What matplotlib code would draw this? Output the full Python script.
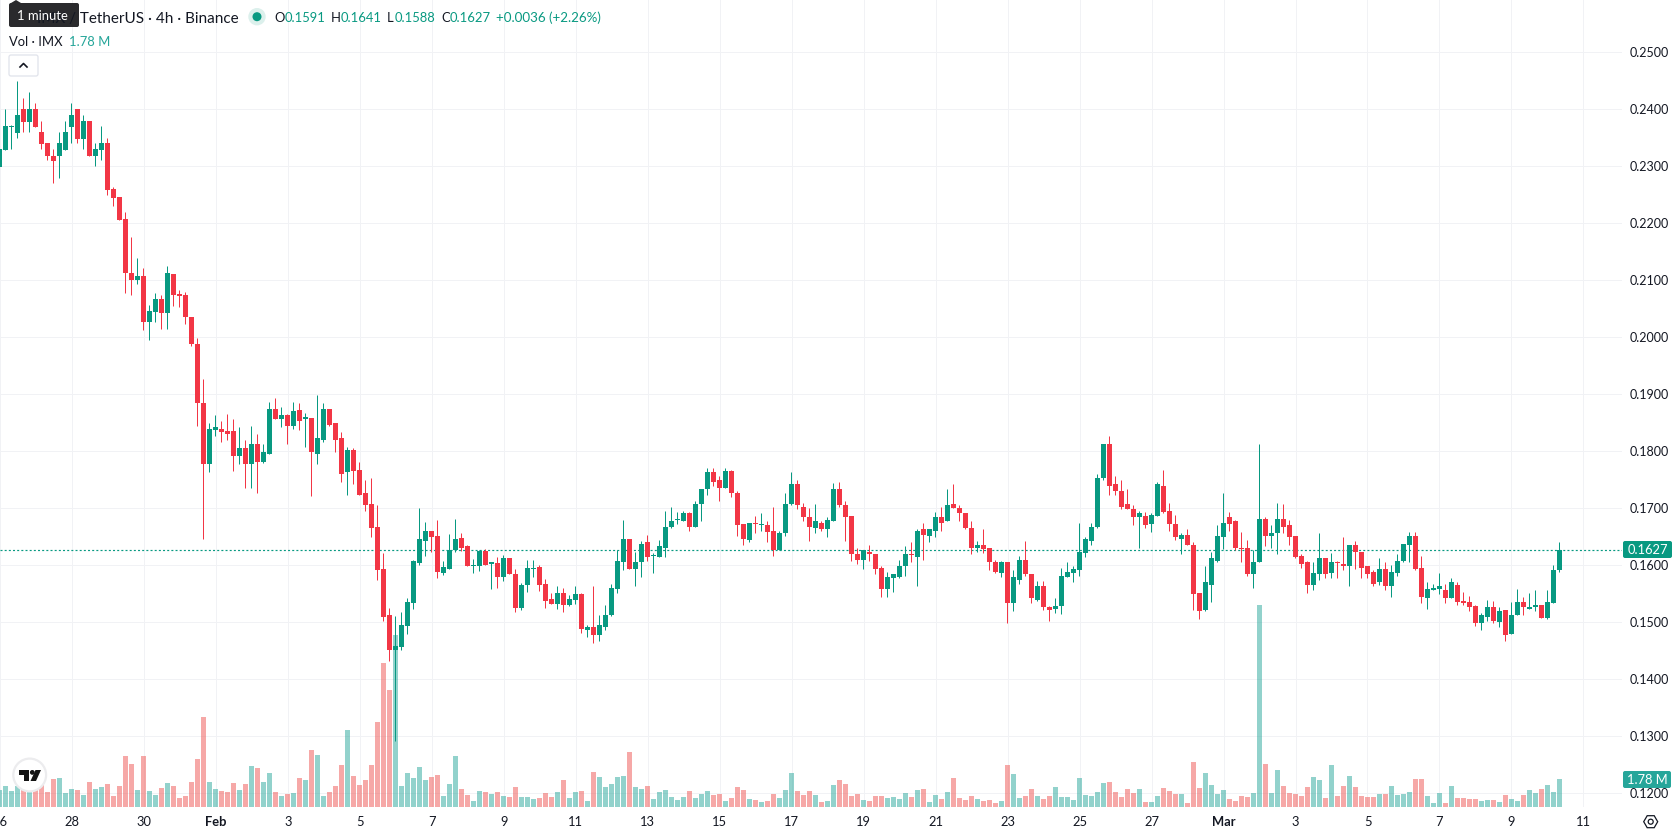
"""IMX / USDT 4h candles with volume, drawn in a trading terminal layout."""

import matplotlib

matplotlib.use("Agg")
import matplotlib.pyplot as plt
import numpy as np
from matplotlib.patches import Circle, FancyBboxPatch, Polygon

FIG_W, FIG_H = 1678, 835
PANE_RIGHT, PANE_BOTTOM = 1622, 806.7
GREEN = "#089981"
RED = "#f23645"
VOL_GREEN = "#26a69a"
VOL_RED = "#ef5350"
GRID = "#f1f2f5"
INK = "#131722"

plt.rcParams["font.family"] = ["Lato", "DejaVu Sans"]

# one entry per 4h bar, first bar sits 36 bars before 1 Feb
opens = [
    0.2299, 0.2329, 0.2369, 0.2358, 0.2401, 0.2378, 0.2401, 0.2360, 0.2341, 0.2318,
    0.2318, 0.2329, 0.2369, 0.2401, 0.2348, 0.2380, 0.2318, 0.2329, 0.2341, 0.2260,
    0.2246, 0.2208, 0.2113, 0.2101, 0.2108, 0.2027, 0.2045, 0.2068, 0.2042, 0.2111,
    0.2076, 0.2074, 0.2036, 0.1989, 0.1885, 0.1778, 0.1838, 0.1840, 0.1836, 0.1835,
    0.1792, 0.1805, 0.1778, 0.1813, 0.1782, 0.1796, 0.1875, 0.1856, 0.1863, 0.1845,
    0.1873, 0.1856, 0.1859, 0.1796, 0.1820, 0.1875, 0.1849, 0.1824, 0.1763, 0.1803,
    0.1768, 0.1726, 0.1708, 0.1668, 0.1594, 0.1513, 0.1451, 0.1457, 0.1494, 0.1534,
    0.1604, 0.1643, 0.1660, 0.1651, 0.1587, 0.1594, 0.1627, 0.1648, 0.1634, 0.1599,
    0.1599, 0.1625, 0.1603, 0.1604, 0.1580, 0.1613, 0.1585, 0.1525, 0.1565, 0.1594,
    0.1597, 0.1567, 0.1541, 0.1532, 0.1551, 0.1530, 0.1539, 0.1550, 0.1487, 0.1492,
    0.1478, 0.1492, 0.1512, 0.1559, 0.1606, 0.1647, 0.1594, 0.1605, 0.1640, 0.1616,
    0.1615, 0.1631, 0.1668, 0.1679, 0.1678, 0.1691, 0.1668, 0.1708, 0.1734, 0.1764,
    0.1749, 0.1736, 0.1766, 0.1727, 0.1673, 0.1645, 0.1673, 0.1670, 0.1670, 0.1661,
    0.1626, 0.1656, 0.1708, 0.1742, 0.1703, 0.1684, 0.1666, 0.1675, 0.1664, 0.1678,
    0.1733, 0.1706, 0.1687, 0.1619, 0.1610, 0.1624, 0.1619, 0.1596, 0.1559, 0.1577,
    0.1580, 0.1598, 0.1619, 0.1615, 0.1663, 0.1652, 0.1661, 0.1685, 0.1677, 0.1708,
    0.1701, 0.1691, 0.1666, 0.1631, 0.1636, 0.1631, 0.1605, 0.1587, 0.1605, 0.1534,
    0.1575, 0.1610, 0.1585, 0.1540, 0.1563, 0.1527, 0.1524, 0.1529, 0.1580, 0.1587,
    0.1591, 0.1622, 0.1643, 0.1668, 0.1754, 0.1813, 0.1742, 0.1731, 0.1708, 0.1699,
    0.1685, 0.1687, 0.1673, 0.1687, 0.1740, 0.1696, 0.1673, 0.1647, 0.1654, 0.1636,
    0.1552, 0.1522, 0.1566, 0.1608, 0.1650, 0.1684, 0.1678, 0.1630, 0.1631, 0.1585,
    0.1606, 0.1682, 0.1652, 0.1656, 0.1682, 0.1670, 0.1652, 0.1617, 0.1606, 0.1566,
    0.1585, 0.1613, 0.1587, 0.1605, 0.1603, 0.1599, 0.1636, 0.1624, 0.1598, 0.1589,
    0.1570, 0.1594, 0.1564, 0.1587, 0.1608, 0.1636, 0.1652, 0.1596, 0.1543, 0.1557,
    0.1559, 0.1557, 0.1543, 0.1566, 0.1538, 0.1536, 0.1529, 0.1498, 0.1510, 0.1527,
    0.1501, 0.1522, 0.1480, 0.1513, 0.1536, 0.1524, 0.1527, 0.1531, 0.1508, 0.1534,
    0.1591,
]
highs = [
    0.2336, 0.2401, 0.2372, 0.2450, 0.2420, 0.2430, 0.2411, 0.2380, 0.2341, 0.2330,
    0.2360, 0.2380, 0.2411, 0.2401, 0.2390, 0.2380, 0.2341, 0.2371, 0.2350, 0.2264,
    0.2246, 0.2220, 0.2176, 0.2139, 0.2122, 0.2057, 0.2077, 0.2075, 0.2125, 0.2111,
    0.2083, 0.2080, 0.2036, 0.1998, 0.1926, 0.1849, 0.1863, 0.1854, 0.1866, 0.1856,
    0.1842, 0.1819, 0.1845, 0.1831, 0.1813, 0.1887, 0.1894, 0.1877, 0.1866, 0.1887,
    0.1884, 0.1868, 0.1859, 0.1898, 0.1885, 0.1875, 0.1849, 0.1833, 0.1808, 0.1805,
    0.1782, 0.1749, 0.1754, 0.1705, 0.1622, 0.1525, 0.1511, 0.1518, 0.1543, 0.1609,
    0.1700, 0.1676, 0.1660, 0.1680, 0.1608, 0.1655, 0.1681, 0.1657, 0.1636, 0.1611,
    0.1627, 0.1629, 0.1606, 0.1615, 0.1618, 0.1613, 0.1594, 0.1569, 0.1609, 0.1609,
    0.1601, 0.1576, 0.1551, 0.1564, 0.1560, 0.1548, 0.1564, 0.1552, 0.1496, 0.1564,
    0.1513, 0.1531, 0.1568, 0.1627, 0.1680, 0.1647, 0.1624, 0.1642, 0.1654, 0.1622,
    0.1645, 0.1696, 0.1703, 0.1694, 0.1696, 0.1694, 0.1712, 0.1734, 0.1770, 0.1770,
    0.1757, 0.1770, 0.1768, 0.1731, 0.1673, 0.1675, 0.1687, 0.1691, 0.1678, 0.1703,
    0.1661, 0.1726, 0.1763, 0.1749, 0.1710, 0.1701, 0.1708, 0.1678, 0.1685, 0.1745,
    0.1747, 0.1713, 0.1687, 0.1631, 0.1627, 0.1635, 0.1619, 0.1598, 0.1589, 0.1584,
    0.1610, 0.1633, 0.1640, 0.1663, 0.1675, 0.1663, 0.1694, 0.1703, 0.1733, 0.1742,
    0.1705, 0.1692, 0.1677, 0.1642, 0.1664, 0.1631, 0.1610, 0.1608, 0.1605, 0.1591,
    0.1617, 0.1642, 0.1585, 0.1573, 0.1573, 0.1529, 0.1543, 0.1596, 0.1605, 0.1599,
    0.1675, 0.1649, 0.1675, 0.1761, 0.1813, 0.1827, 0.1756, 0.1749, 0.1734, 0.1705,
    0.1696, 0.1694, 0.1691, 0.1747, 0.1768, 0.1710, 0.1689, 0.1656, 0.1664, 0.1640,
    0.1552, 0.1598, 0.1624, 0.1671, 0.1727, 0.1694, 0.1680, 0.1659, 0.1645, 0.1626,
    0.1812, 0.1685, 0.1671, 0.1710, 0.1708, 0.1680, 0.1652, 0.1620, 0.1608, 0.1605,
    0.1656, 0.1613, 0.1622, 0.1608, 0.1649, 0.1636, 0.1642, 0.1624, 0.1598, 0.1591,
    0.1613, 0.1605, 0.1601, 0.1619, 0.1638, 0.1659, 0.1659, 0.1617, 0.1571, 0.1568,
    0.1587, 0.1568, 0.1577, 0.1570, 0.1554, 0.1547, 0.1531, 0.1517, 0.1540, 0.1538,
    0.1526, 0.1522, 0.1536, 0.1559, 0.1545, 0.1552, 0.1557, 0.1531, 0.1557, 0.1601,
    0.1641,
]
lows = [
    0.2295, 0.2329, 0.2330, 0.2350, 0.2360, 0.2360, 0.2369, 0.2330, 0.2311, 0.2271,
    0.2280, 0.2329, 0.2341, 0.2341, 0.2330, 0.2318, 0.2301, 0.2311, 0.2250, 0.2230,
    0.2206, 0.2078, 0.2074, 0.2094, 0.2012, 0.1996, 0.2027, 0.2015, 0.2015, 0.2055,
    0.2054, 0.2024, 0.1985, 0.1845, 0.1647, 0.1763, 0.1827, 0.1817, 0.1819, 0.1766,
    0.1778, 0.1735, 0.1736, 0.1727, 0.1780, 0.1796, 0.1857, 0.1842, 0.1813, 0.1840,
    0.1838, 0.1808, 0.1722, 0.1777, 0.1817, 0.1845, 0.1799, 0.1747, 0.1724, 0.1742,
    0.1724, 0.1696, 0.1649, 0.1575, 0.1502, 0.1432, 0.1292, 0.1451, 0.1480, 0.1523,
    0.1601, 0.1616, 0.1623, 0.1578, 0.1583, 0.1594, 0.1623, 0.1625, 0.1599, 0.1587,
    0.1590, 0.1600, 0.1558, 0.1560, 0.1573, 0.1585, 0.1518, 0.1522, 0.1553, 0.1580,
    0.1555, 0.1525, 0.1532, 0.1523, 0.1518, 0.1529, 0.1532, 0.1482, 0.1475, 0.1464,
    0.1468, 0.1487, 0.1511, 0.1552, 0.1592, 0.1594, 0.1563, 0.1580, 0.1608, 0.1587,
    0.1615, 0.1615, 0.1666, 0.1673, 0.1678, 0.1661, 0.1668, 0.1678, 0.1724, 0.1740,
    0.1712, 0.1736, 0.1720, 0.1652, 0.1636, 0.1640, 0.1657, 0.1661, 0.1640, 0.1617,
    0.1626, 0.1652, 0.1705, 0.1699, 0.1678, 0.1642, 0.1657, 0.1661, 0.1649, 0.1677,
    0.1703, 0.1642, 0.1608, 0.1603, 0.1594, 0.1608, 0.1584, 0.1545, 0.1545, 0.1554,
    0.1578, 0.1582, 0.1605, 0.1563, 0.1610, 0.1640, 0.1650, 0.1661, 0.1677, 0.1701,
    0.1677, 0.1663, 0.1619, 0.1624, 0.1622, 0.1592, 0.1587, 0.1580, 0.1498, 0.1519,
    0.1568, 0.1582, 0.1533, 0.1538, 0.1522, 0.1503, 0.1517, 0.1515, 0.1580, 0.1570,
    0.1582, 0.1615, 0.1635, 0.1666, 0.1749, 0.1724, 0.1724, 0.1698, 0.1698, 0.1671,
    0.1631, 0.1666, 0.1659, 0.1687, 0.1691, 0.1661, 0.1645, 0.1619, 0.1635, 0.1522,
    0.1506, 0.1520, 0.1536, 0.1606, 0.1629, 0.1661, 0.1626, 0.1606, 0.1582, 0.1561,
    0.1606, 0.1633, 0.1631, 0.1619, 0.1656, 0.1636, 0.1613, 0.1596, 0.1552, 0.1556,
    0.1575, 0.1577, 0.1578, 0.1578, 0.1591, 0.1563, 0.1594, 0.1577, 0.1578, 0.1563,
    0.1566, 0.1557, 0.1545, 0.1582, 0.1606, 0.1606, 0.1591, 0.1534, 0.1524, 0.1556,
    0.1550, 0.1533, 0.1543, 0.1531, 0.1531, 0.1519, 0.1494, 0.1487, 0.1503, 0.1498,
    0.1491, 0.1468, 0.1480, 0.1512, 0.1512, 0.1524, 0.1519, 0.1508, 0.1506, 0.1534,
    0.1588,
]
closes = [
    0.2330, 0.2371, 0.2371, 0.2390, 0.2378, 0.2401, 0.2369, 0.2339, 0.2318, 0.2309,
    0.2341, 0.2360, 0.2390, 0.2348, 0.2380, 0.2318, 0.2330, 0.2341, 0.2258, 0.2244,
    0.2206, 0.2113, 0.2101, 0.2108, 0.2027, 0.2047, 0.2067, 0.2042, 0.2113, 0.2074,
    0.2073, 0.2035, 0.1989, 0.1884, 0.1778, 0.1840, 0.1842, 0.1833, 0.1831, 0.1792,
    0.1805, 0.1777, 0.1812, 0.1782, 0.1798, 0.1875, 0.1857, 0.1863, 0.1845, 0.1871,
    0.1854, 0.1861, 0.1798, 0.1824, 0.1875, 0.1847, 0.1820, 0.1761, 0.1803, 0.1766,
    0.1724, 0.1705, 0.1666, 0.1591, 0.1509, 0.1451, 0.1458, 0.1495, 0.1536, 0.1608,
    0.1646, 0.1660, 0.1650, 0.1588, 0.1597, 0.1627, 0.1646, 0.1630, 0.1599, 0.1601,
    0.1625, 0.1601, 0.1605, 0.1580, 0.1613, 0.1585, 0.1525, 0.1565, 0.1595, 0.1596,
    0.1565, 0.1537, 0.1532, 0.1551, 0.1530, 0.1541, 0.1550, 0.1489, 0.1492, 0.1478,
    0.1496, 0.1512, 0.1561, 0.1608, 0.1647, 0.1594, 0.1605, 0.1638, 0.1615, 0.1617,
    0.1633, 0.1668, 0.1678, 0.1680, 0.1691, 0.1668, 0.1708, 0.1734, 0.1764, 0.1747,
    0.1736, 0.1766, 0.1726, 0.1671, 0.1647, 0.1675, 0.1672, 0.1671, 0.1659, 0.1626,
    0.1657, 0.1708, 0.1742, 0.1705, 0.1685, 0.1668, 0.1677, 0.1664, 0.1680, 0.1733,
    0.1706, 0.1685, 0.1620, 0.1610, 0.1626, 0.1620, 0.1594, 0.1559, 0.1580, 0.1584,
    0.1599, 0.1619, 0.1618, 0.1661, 0.1654, 0.1663, 0.1685, 0.1675, 0.1705, 0.1701,
    0.1691, 0.1666, 0.1631, 0.1636, 0.1629, 0.1605, 0.1589, 0.1606, 0.1534, 0.1580,
    0.1610, 0.1585, 0.1542, 0.1563, 0.1526, 0.1522, 0.1529, 0.1582, 0.1589, 0.1594,
    0.1624, 0.1647, 0.1668, 0.1754, 0.1812, 0.1740, 0.1731, 0.1703, 0.1699, 0.1685,
    0.1691, 0.1671, 0.1689, 0.1742, 0.1694, 0.1673, 0.1649, 0.1654, 0.1635, 0.1550,
    0.1520, 0.1570, 0.1612, 0.1652, 0.1675, 0.1673, 0.1631, 0.1629, 0.1585, 0.1606,
    0.1682, 0.1652, 0.1656, 0.1682, 0.1668, 0.1650, 0.1615, 0.1603, 0.1566, 0.1587,
    0.1613, 0.1585, 0.1605, 0.1604, 0.1598, 0.1636, 0.1624, 0.1596, 0.1585, 0.1568,
    0.1594, 0.1564, 0.1589, 0.1608, 0.1638, 0.1652, 0.1594, 0.1545, 0.1559, 0.1561,
    0.1563, 0.1543, 0.1570, 0.1536, 0.1534, 0.1527, 0.1498, 0.1512, 0.1527, 0.1503,
    0.1520, 0.1478, 0.1512, 0.1536, 0.1526, 0.1527, 0.1531, 0.1508, 0.1536, 0.1592,
    0.1627,
]
# volume in millions
volumes = [
    1.06, 1.31, 1.00, 1.31, 1.17, 1.02, 1.12, 1.38, 0.93, 1.76,
    1.82, 0.87, 1.12, 1.06, 0.74, 1.57, 1.12, 1.25, 1.44, 0.68,
    1.31, 3.22, 2.71, 1.06, 3.22, 1.00, 0.74, 1.19, 1.50, 1.31,
    0.55, 0.68, 1.57, 3.03, 5.70, 1.57, 1.12, 1.00, 0.93, 1.50,
    1.06, 1.44, 2.59, 2.46, 1.57, 2.14, 0.93, 0.68, 0.81, 0.87,
    1.82, 1.70, 3.60, 3.28, 0.68, 0.93, 1.31, 2.65, 4.87, 1.95,
    1.38, 1.70, 2.65, 5.38, 9.13, 7.42, 10.91, 1.31, 2.14, 1.82,
    2.52, 1.70, 1.89, 2.01, 0.68, 1.44, 3.22, 1.12, 0.74, 0.36,
    1.00, 0.93, 0.81, 0.93, 0.68, 0.61, 1.25, 0.61, 0.61, 0.49,
    0.55, 0.87, 0.61, 0.95, 1.72, 0.57, 0.95, 1.02, 0.38, 2.23,
    1.91, 1.27, 1.46, 1.91, 1.97, 3.50, 1.27, 1.14, 1.34, 0.51,
    0.95, 1.08, 0.64, 0.45, 0.64, 1.02, 0.57, 0.83, 1.02, 0.76,
    0.83, 0.38, 0.57, 1.27, 1.08, 0.51, 0.45, 0.32, 0.38, 0.83,
    0.57, 1.08, 2.16, 1.02, 0.76, 1.02, 0.76, 0.32, 0.38, 1.40,
    1.72, 1.46, 0.70, 0.83, 0.45, 0.38, 0.70, 0.70, 0.57, 0.64,
    0.51, 0.89, 0.64, 1.08, 1.14, 0.32, 0.76, 0.51, 0.95, 1.84,
    0.57, 0.45, 0.70, 0.51, 0.38, 0.45, 0.25, 0.38, 2.67, 2.10,
    0.57, 0.70, 1.14, 0.70, 0.51, 0.70, 1.27, 0.64, 0.64, 0.45,
    1.84, 0.76, 0.70, 0.95, 1.53, 1.59, 0.95, 0.64, 1.14, 0.89,
    1.14, 0.32, 0.32, 0.70, 1.21, 1.02, 0.83, 0.83, 0.25, 2.86,
    1.21, 2.16, 1.40, 0.83, 1.08, 0.51, 0.38, 0.70, 0.64, 0.89,
    12.82, 2.73, 0.89, 2.35, 1.34, 0.89, 0.83, 0.70, 1.27, 1.91,
    1.72, 0.57, 2.67, 0.70, 1.34, 1.97, 1.27, 0.70, 0.64, 0.64,
    0.83, 0.83, 1.34, 0.76, 0.83, 0.95, 1.78, 1.78, 0.70, 0.25,
    0.89, 0.25, 1.34, 0.57, 0.57, 0.51, 0.51, 0.38, 0.45, 0.45,
    0.32, 0.76, 0.51, 0.38, 0.76, 1.08, 0.89, 1.14, 1.40, 0.95,
    1.78,
]
day_labels = [
    "26", "28", "30", "Feb", "3", "5", "7", "9", "11", "13", "15", "17",
    "19", "21", "23", "25", "27", "Mar", "3", "5", "7", "9", "11",
]
price_ticks = [
    0.12, 0.13, 0.14, 0.15, 0.16, 0.17, 0.18, 0.19, 0.20, 0.21, 0.22, 0.23, 0.24, 0.25,
]

bars = np.arange(-36, -36 + len(closes))
day_ticks = np.arange(-36, -36 + 12 * len(day_labels), 12)

# pane scales: 6 px per bar, 5700 px per unit of price, 1.78M volume is 28 px tall
BAR_PX = 6.0
x_lim = (-215.4 / BAR_PX, (PANE_RIGHT - 215.4) / BAR_PX)
y_lim = (0.25 - (PANE_BOTTOM - 52.3) / 5700, 0.25 + 52.3 / 5700)
vol_top = PANE_BOTTOM * 1.78 / 28

fig = plt.figure(figsize=(FIG_W / 100, FIG_H / 100), dpi=100, facecolor="white")
rect = [0, (FIG_H - PANE_BOTTOM) / FIG_H, PANE_RIGHT / FIG_W, PANE_BOTTOM / FIG_H]


def pane(z):
    ax = fig.add_axes(rect, zorder=z)
    ax.set_xlim(x_lim)
    ax.set_ylim(y_lim)
    for s in ax.spines.values():
        s.set_visible(False)
    ax.patch.set_alpha(0)
    ax.set_xticks([])
    ax.set_yticks([])
    return ax


# grid and axis labels sit on the bottom layer
ax = pane(1)
ax.set_xticks(day_ticks)
ax.set_xticklabels(day_labels, fontsize=9.3, color=INK)
for tick in ax.get_xticklabels():
    if tick.get_text() in ("Feb", "Mar"):
        tick.set_fontweight("bold")
ax.yaxis.tick_right()
ax.set_yticks(price_ticks)
ax.set_yticklabels([f"{p:.4f}" for p in price_ticks], fontsize=9.0, color=INK)
ax.tick_params(axis="both", length=0)
ax.tick_params(axis="x", pad=7)
ax.tick_params(axis="y", pad=5.8)
ax.grid(True, color=GRID, linewidth=0.72)
ax.set_axisbelow(True)

# volume sits above the grid but under the candles
up = np.array(closes) >= np.array(opens)
vol_ax = pane(2)
vol_ax.set_ylim(0, vol_top)
vol_ax.bar(bars, volumes, width=5 / BAR_PX, color=np.where(up, VOL_GREEN, VOL_RED), alpha=0.5, linewidth=0)

candle_ax = pane(3)
candle_colors = np.where(up, GREEN, RED)
last_line = candle_ax.axhline(closes[-1], color=GREEN, linewidth=0.85, linestyle=(0, (1.7, 1.83)), zorder=1)
last_line.set_snap(True)
wicks = candle_ax.vlines(bars, lows, highs, colors=candle_colors, linewidth=0.72, zorder=2)
wicks.set_snap(True)
one_px = 1 / 5700
bodies = np.maximum(np.abs(np.array(closes) - np.array(opens)), one_px)
candle_ax.bar(
    bars,
    bodies,
    bottom=np.minimum(opens, closes),
    width=5 / BAR_PX,
    color=candle_colors,
    linewidth=0,
    zorder=3,
)

# header, tags and badges are placed in figure pixels
ui = fig.add_axes([0, 0, 1, 1], zorder=4)
ui.set_xlim(0, FIG_W)
ui.set_ylim(FIG_H, 0)
ui.axis("off")
ui.patch.set_alpha(0)


def label(x, y, text, color=INK, size=9.4, ha="left", **kw):
    ui.text(x, y, text, color=color, fontsize=size, ha=ha, va="center_baseline", **kw)


def tag(x0, y0, x1, y1, color):
    ui.add_patch(
        FancyBboxPatch(
            (x0 + 2, y0 + 2), x1 - x0 - 4, y1 - y0 - 4,
            boxstyle="round,pad=2,rounding_size=2", facecolor=color, edgecolor="none",
        )
    )


label(239, 17, "IMX / TetherUS · 4h · Binance", size=11, ha="right")
tag(9, 3, 79, 27, "#2a2a2d")
ui.add_patch(Polygon([(11, 3), (16, 0), (21, 3)], facecolor="#2a2a2d", edgecolor="none"))
label(17, 15.5, "1 minute", color="white", size=9.4)

ui.add_patch(Circle((257, 16.7), 8.7, facecolor="#dcf0ec", edgecolor="none"))
ui.add_patch(Circle((257, 16.7), 4.5, facecolor=GREEN, edgecolor="none"))

change = closes[-1] - opens[-1]
pct = change / opens[-1] * 100
for x_key, x_val, key, val in [
    (274, 285, "O", opens[-1]),
    (331, 341, "H", highs[-1]),
    (387, 395, "L", lows[-1]),
    (441, 450, "C", closes[-1]),
]:
    label(x_key, 17, key)
    label(x_val, 17, f"{val:.4f}", color=GREEN)
label(495.5, 17, f"+{change:.4f} (+{pct:.2f}%)", color=GREEN, size=9.6)

label(9, 40.7, "Vol · IMX")
label(69, 40.7, f"{volumes[-1]:.2f} M", color=VOL_GREEN)

ui.add_patch(
    FancyBboxPatch(
        (11, 57), 25, 17, boxstyle="round,pad=2,rounding_size=2",
        facecolor="white", edgecolor="#e0e3eb", linewidth=0.9,
    )
)
ui.plot([20, 23.5, 27], [67, 63.5, 67], color=INK, linewidth=1.2)

tag(1623, 541, 1672, 558, GREEN)
label(1647.5, 549.5, f"{closes[-1]:.4f}", color="white", size=9.3, ha="center")
tag(1623, 771, 1671, 788, VOL_GREEN)
label(1647, 779.5, f"{volumes[-1]:.2f} M", color="white", size=9.3, ha="center")

# exchange badge bottom left
ui.add_patch(Circle((29.7, 775), 16.4, facecolor="white", edgecolor="#ececee", linewidth=1.6))
ui.add_patch(
    Polygon(
        [(19, 770), (29, 770), (29, 781), (24, 781), (24, 775), (19, 775)],
        facecolor="#131313", edgecolor="none",
    )
)
ui.add_patch(Circle((32.3, 772.4), 2.4, facecolor="#131313", edgecolor="none"))
ui.add_patch(
    Polygon([(35.5, 770), (41, 770), (36, 781), (30.5, 781)], facecolor="#131313", edgecolor="none")
)

# settings gear bottom right
ui.add_patch(
    Polygon(
        [(1643.7, 821.7), (1647.2, 815.7), (1654.2, 815.7), (1657.7, 821.7), (1654.2, 827.7), (1647.2, 827.7)],
        closed=True, facecolor="none", edgecolor=INK, linewidth=0.9,
    )
)
ui.add_patch(Circle((1650.7, 821.7), 2.5, facecolor="none", edgecolor=INK, linewidth=0.9))

fig.savefig("out.png", dpi=100, facecolor="white")
